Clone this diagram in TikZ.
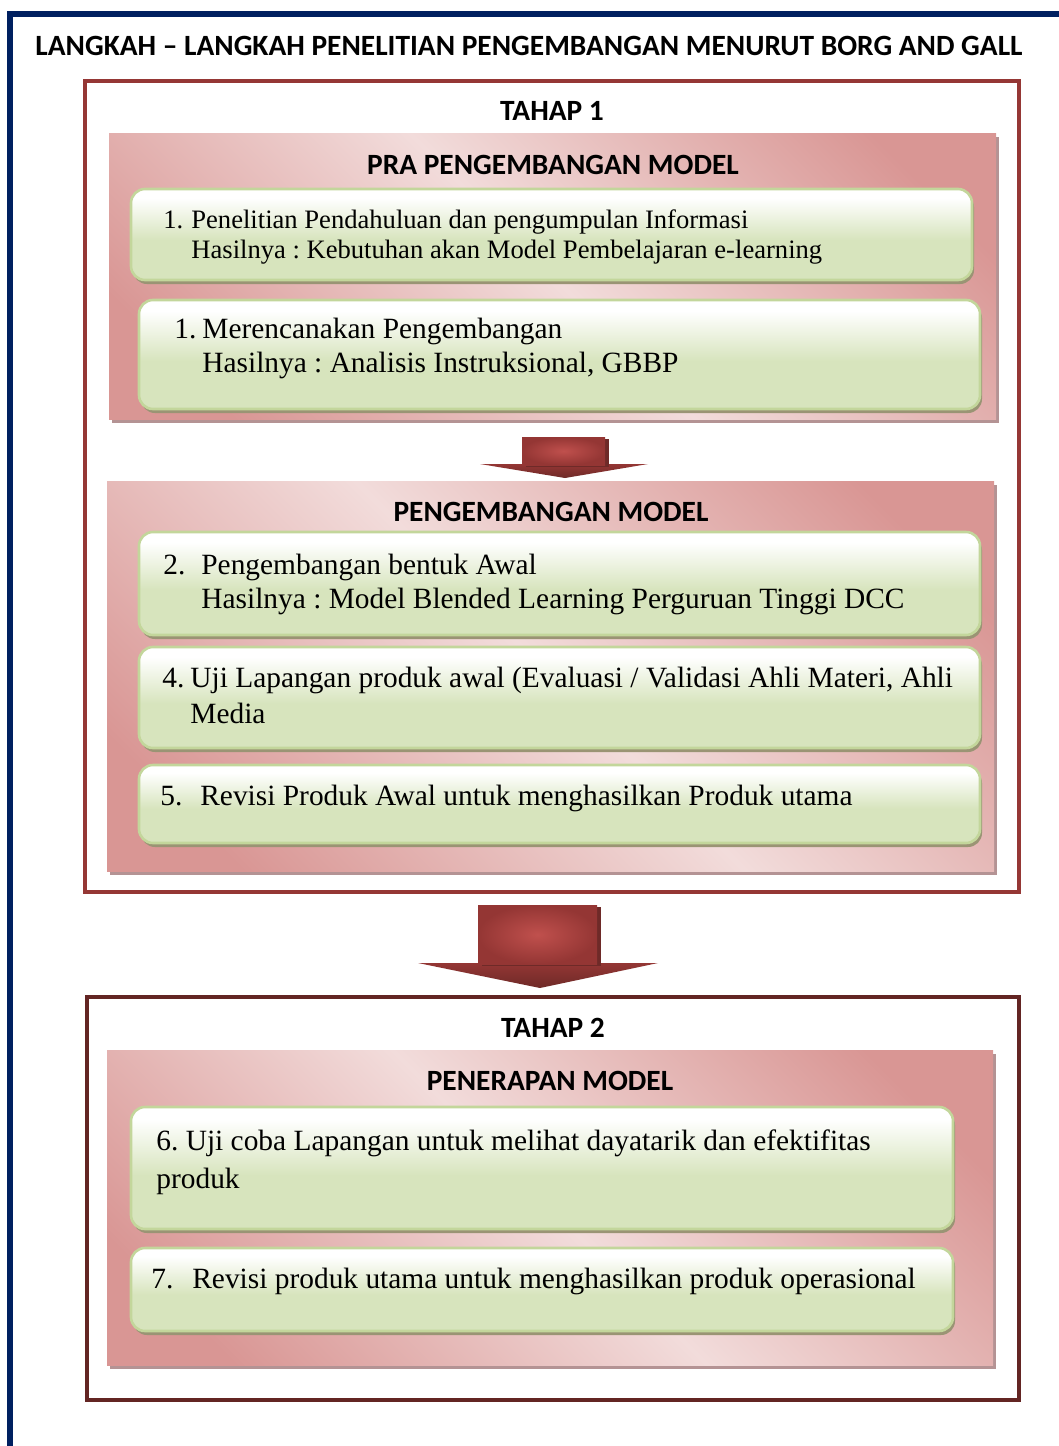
\documentclass[tikz,border=0pt]{standalone}
\usepackage{fontspec}
\setmainfont{Liberation Serif}
\newfontfamily\headfont{Carlito}
\usepackage{xcolor}
\usetikzlibrary{shadows}

\definecolor{navyframe}{HTML}{002060}
\definecolor{tahapone}{HTML}{953735}
\definecolor{tahaptwo}{HTML}{632523}
\definecolor{pinklight}{HTML}{F2DCDB}
\definecolor{pinkdark}{HTML}{D99694}
\definecolor{pinkshadow}{HTML}{B49394}
\definecolor{greenedge}{HTML}{C3D69B}
\definecolor{greenfill}{HTML}{D7E4BD}
\definecolor{greenshadow}{HTML}{9A9474}
\definecolor{arrowmid}{HTML}{C0504D}
\definecolor{arrowdark}{HTML}{943634}
\definecolor{arrowdeep}{HTML}{6E2A28}

% diagonal pink fade and soft green fade
\pgfdeclarehorizontalshading{pinkdiag}{100bp}{color(0bp)=(pinkdark); color(22bp)=(pinkdark); color(50bp)=(pinklight); color(78bp)=(pinkdark); color(100bp)=(pinkdark)}
\pgfdeclareverticalshading{greenfade}{100bp}{color(0bp)=(greenfill); color(25bp)=(greenfill); color(47bp)=(greenfill); color(70bp)=(white); color(100bp)=(white)}

\newcommand{\nomor}[2]{\makebox[#1][l]{#2}}

\begin{document}
\frenchspacing
\begin{tikzpicture}[x=0.5pt,y=-0.5pt,
    navyline/.style={draw=navyframe, line width=2.8pt},
    tahapbox/.style={draw=#1, line width=2pt},
    pinkbox/.style={shade, shading=pinkdiag, shading angle=45,
      drop shadow={shadow xshift=1.5pt, shadow yshift=-2pt, fill=pinkshadow, opacity=1}},
    greenbox/.style={rounded corners=7pt, draw=greenedge, line width=1.3pt,
      shade, shading=greenfade,
      drop shadow={shadow xshift=1pt, shadow yshift=-2pt, fill=greenshadow, opacity=1}},
    headtxt/.style={font=\headfont\bfseries\fontsize{14.7}{16}\selectfont, anchor=base, inner sep=0},
    itemtxt/.style={font=\fontsize{14.7}{#1}\selectfont, anchor=base west, inner sep=0},
    itemtxt/.default=17pt,
    arrowbody/.style={inner color=arrowmid, outer color=arrowdark,
      drop shadow={shadow xshift=2pt, shadow yshift=-1pt, fill=arrowdeep, opacity=1}},
    arrowhead/.style={top color=arrowdark, bottom color=arrowdeep}]
  \useasboundingbox (0,0) rectangle (1059,1446);

  % frame and title
  \draw[navyline] (10,1446) -- (10,14) -- (1059,14);
  \node[headtxt, anchor=base west] (judul) at (35,55)
    {LANGKAH – LANGKAH PENELITIAN PENGEMBANGAN MENURUT BORG AND GALL};

  % ---- tahap 1
  \draw[tahapbox=tahapone] (85,81) rectangle (1019,892);
  \node[headtxt] (tahap1) at (552,120) {TAHAP 1};
  \path[pinkbox] (109,133) rectangle (996,419);
  \node[headtxt] (pra) at (553,174) {PRA PENGEMBANGAN MODEL};
  \path[pinkbox] (107,481) rectangle (994,871);
  \node[headtxt] (pengembangan) at (551,521) {PENGEMBANGAN MODEL};

  % ---- tahap 2
  \draw[tahapbox=tahaptwo] (87,997) rectangle (1019,1400);
  \node[headtxt] (tahap2) at (553,1037) {TAHAP 2};
  \path[pinkbox] (107,1050) rectangle (993,1365);
  \node[headtxt] (penerapan) at (550,1090) {PENERAPAN MODEL};

  % green step boxes
  \foreach \xa/\ya/\xb/\yb in {131/189/972/280, 139/300/980/409,
      139/532/980/635, 139/647/980/748, 139/765/980/843,
      131/1107/953/1229, 131/1248/953/1331}{
    \path[greenbox] (\xa,\ya) rectangle (\xb,\yb);
  }

  % texts of the steps
  \node[itemtxt=15pt, font=\fontsize{13.3}{15}\selectfont] (langkah1) at (163,228)
    {\begin{tabular}[t]{@{}l@{}}\nomor{14pt}{1.}Penelitian Pendahuluan dan pengumpulan Informasi\\
     \hspace*{14pt}Hasilnya : Kebutuhan akan Model Pembelajaran e-learning\end{tabular}};
  \node[itemtxt] (langkah2) at (174,338)
    {\begin{tabular}[t]{@{}l@{}}\nomor{14pt}{1.}Merencanakan Pengembangan\\
     \hspace*{14pt}Hasilnya : Analisis Instruksional, GBBP\end{tabular}};
  \node[itemtxt] (langkah3) at (163,574)
    {\begin{tabular}[t]{@{}l@{}}\nomor{19pt}{2.}Pengembangan bentuk Awal\\
     \hspace*{19pt}Hasilnya : Model Blended Learning Perguruan Tinggi DCC\end{tabular}};
  \node[itemtxt=18pt] (langkah4) at (162,687)
    {\begin{tabular}[t]{@{}l@{}}\nomor{14pt}{4.}Uji Lapangan produk awal (Evaluasi / Validasi Ahli Materi, Ahli\\
     \hspace*{14pt}Media\end{tabular}};
  \node[itemtxt] (langkah5) at (160,805)
    {\nomor{20pt}{5.}Revisi Produk Awal untuk menghasilkan Produk utama};
  \node[itemtxt=19pt] (langkah6) at (156,1150)
    {\begin{tabular}[t]{@{}l@{}}6. Uji coba Lapangan untuk melihat dayatarik dan efektifitas\\
     produk\end{tabular}};
  \node[itemtxt] (langkah7) at (151,1288)
    {\nomor{20.5pt}{7.}Revisi produk utama untuk menghasilkan produk operasional};

  % block arrows between the stages
  \path[arrowhead] (480,464) -- (648,464) -- (565,478) -- cycle;
  \path[arrowbody] (522,437) rectangle (605,465);
  \path[arrowhead] (418,963) -- (658,963) -- (540,988) -- cycle;
  \path[arrowbody] (478,905) rectangle (597,964);
\end{tikzpicture}
\end{document}
